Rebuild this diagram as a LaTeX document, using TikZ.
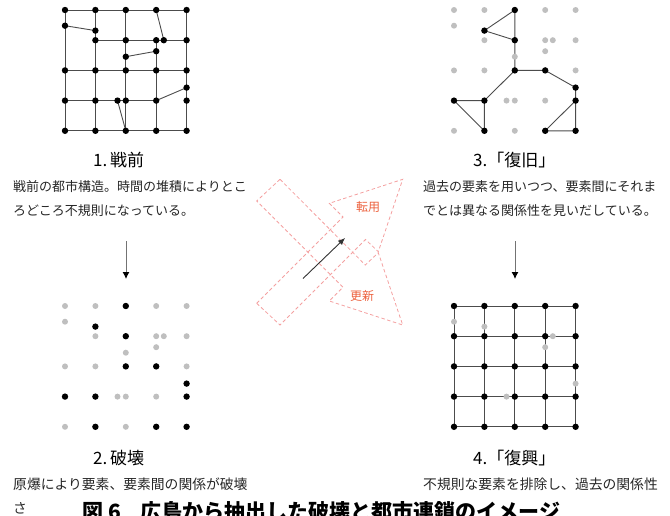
\documentclass[tikz,border=0pt]{standalone}
\usepackage{fontspec}
\setmainfont{Noto Sans CJK JP}
\usetikzlibrary{arrows.meta}
\definecolor{pinkdash}{RGB}{244,160,160}
\definecolor{lblred}{RGB}{236,96,60}
\begin{document}
\begin{tikzpicture}[x=1pt,y=-1pt,
  ln/.style={draw=black!70,line width=0.9pt},
  zone/.style={draw=pinkdash,line width=0.8pt,dash pattern=on 3.5pt off 2.5pt},
  ttl/.style={anchor=base west,inner sep=0pt,font=\fontsize{17}{20}\selectfont},
  desc/.style={anchor=base west,inner sep=0pt,font=\fontsize{13}{16}\selectfont,text=black!85},
  descb/.style={anchor=base west,inner sep=0pt,font=\fontsize{13.8}{16}\selectfont,text=black!85},
  lbl/.style={inner sep=0pt,font=\fontsize{12}{14}\selectfont,text=lblred},
  downarrow/.style={draw=black!55,line width=1pt,-{Latex[length=7pt,width=7pt,color=black]}},
  captext/.style={anchor=base west,inner sep=0pt,font=\fontsize{21}{23}\selectfont\bfseries}
]
\useasboundingbox (0,0) rectangle (670,515);

% grid coordinates
\foreach \g/\ox/\oy in {g1/65/10,g2/65/306,g3/454/10,g4/454/306}{
  \foreach \i in {0,...,4}{\foreach \j in {0,...,4}{
    \coordinate (\g-\i-\j) at ({\ox+30.4*\i},{\oy+30.2*\j});}}
  \coordinate (\g-A) at ({\ox},{\oy+15.7});
  \coordinate (\g-B) at ({\ox+30.4},{\oy+20.6});
  \coordinate (\g-C) at ({\ox+98.8},{\oy+30.2});
  \coordinate (\g-D) at ({\ox+91.2},{\oy+41.2});
  \coordinate (\g-E) at ({\ox+60.8},{\oy+46.7});
  \coordinate (\g-F) at ({\ox+121.6},{\oy+77.6});
  \coordinate (\g-G) at ({\ox+52.5},{\oy+90.6});
}

% ---------- grid 1 : pre-war ----------
\draw[ln] (g1-0-0) -- (g1-4-0);
\draw[ln] (g1-0-0) -- (g1-0-4);
\draw[ln] (g1-A) -- (g1-B);
\draw[ln] (g1-1-0) -- (g1-1-4);
\draw[ln] (g1-1-1) -- (g1-4-1);
\draw[ln] (g1-2-0) -- (g1-2-4);
\draw[ln] (g1-E) -- (g1-D);
\draw[ln] (g1-3-0) -- (g1-C);
\draw[ln] (g1-3-1) -- (g1-3-4);
\draw[ln] (g1-4-0) -- (g1-4-4);
\draw[ln] (g1-0-2) -- (g1-4-2);
\draw[ln] (g1-0-3) -- (g1-3-3);
\draw[ln] (g1-3-3) -- (g1-F);
\draw[ln] (g1-G) -- (g1-2-4);
\draw[ln] (g1-0-4) -- (g1-4-4);
\foreach \p in {0-0,1-0,2-0,3-0,4-0,1-1,2-1,3-1,4-1,0-2,1-2,2-2,3-2,4-2,0-3,1-3,2-3,3-3,4-3,0-4,1-4,2-4,3-4,4-4,A,B,C,D,E,F,G}
  \fill[black] (g1-\p) circle (3.2pt);

% ---------- grid 2 : destruction ----------
\foreach \p in {0-0,1-0,3-0,4-0,1-1,3-1,4-1,0-2,1-2,4-2,2-3,3-3,0-4,2-4,A,C,D,E,G}
  \fill[black!25] (g2-\p) circle (3pt);
\foreach \p in {2-0,B,2-1,2-2,3-2,F,4-3,0-3,1-3,1-4,3-4,4-4}
  \fill[black] (g2-\p) circle (3.2pt);

% ---------- grid 3 : restoration ----------
\draw[ln] (g3-2-0) -- (g3-B) -- (g3-2-1);
\draw[ln] (g3-2-0) -- (g3-2-1) -- (g3-2-2) -- (g3-3-2) -- (g3-F) -- (g3-4-3);
\draw[ln] (g3-2-2) -- (g3-1-3);
\draw[ln] (g3-0-3) -- (g3-1-3) -- (g3-1-4) -- (g3-0-3);
\draw[ln] (g3-4-3) -- (g3-3-4) -- (g3-4-4) -- (g3-4-3);
\foreach \p in {0-0,1-0,3-0,4-0,1-1,3-1,4-1,0-2,1-2,4-2,2-3,3-3,0-4,2-4,A,C,D,E,G}
  \fill[black!25] (g3-\p) circle (3pt);
\foreach \p in {2-0,B,2-1,2-2,3-2,F,4-3,0-3,1-3,1-4,3-4,4-4}
  \fill[black] (g3-\p) circle (3.2pt);

% ---------- grid 4 : revival ----------
\foreach \k in {0,...,4}{
  \draw[ln] (g4-0-\k) -- (g4-4-\k);
  \draw[ln] (g4-\k-0) -- (g4-\k-4);
}
\foreach \i in {0,...,4}{\foreach \j in {0,...,4}{
  \fill[black] (g4-\i-\j) circle (3.2pt);}}
\foreach \p in {A,B,C,D,F,G}
  \fill[black!25] (g4-\p) circle (3pt);

% ---------- titles and texts ----------
\node[ttl] (t1) at (93,166) {1.\,戦前};
\node[desc] (d1a) at (13,191) {戦前の都市構造。時間の堆積によりとこ};
\node[desc] (d1b) at (13,215) {ろどころ不規則になっている。};
\node[ttl] (t3) at (473,166) {3.「復旧」};
\node[desc] (d3a) at (423,191) {過去の要素を用いつつ、要素間にそれま};
\node[desc] (d3b) at (423,215) {でとは異なる関係性を見いだしている。};
\node[ttl] (t2) at (93,464) {2.\,破壊};
\node[descb] (d2a) at (13,489) {原爆により要素、要素間の関係が破壊};
\node[descb] (d2b) at (13,513) {さ};
\node[ttl] (t4) at (473,464) {4.「復興」};
\node[descb] (d4a) at (423,489) {不規則な要素を排除し、過去の関係性};
\node[captext] (caption) at (82,519.5) {図 6\hspace{20pt}広島から抽出した破壊と都市連鎖のイメージ};

% ---------- vertical arrows ----------
\coordinate (a1s) at (126,241); \coordinate (a1e) at (126,279);
\coordinate (a3s) at (515,241); \coordinate (a3e) at (515,279);
\draw[downarrow] (a1s) -- (a1e);
\draw[downarrow] (a3s) -- (a3e);

% ---------- central diagram ----------
\draw[zone] (256.7,303.3) -- (343,217) -- (329.3,203.3) -- (402.7,179.3)
  -- (378.3,251.7) -- (365.5,239.5) -- (280,325) -- cycle;
\draw[zone] (280,179.3) -- (365.3,265) -- (378.3,252.7) -- (402.7,325)
  -- (329.3,301) -- (343,287.3) -- (256.7,201) -- cycle;
\node[lbl] (ten) at (368,207) {転用};
\node[lbl] (kou) at (362,296) {更新};
\coordinate (cs) at (303,278.5); \coordinate (ce) at (345,238);
\draw[draw=black!80,line width=0.9pt,-{Latex[length=7pt,width=6pt]}] (cs) -- (ce);
\end{tikzpicture}
\end{document}
